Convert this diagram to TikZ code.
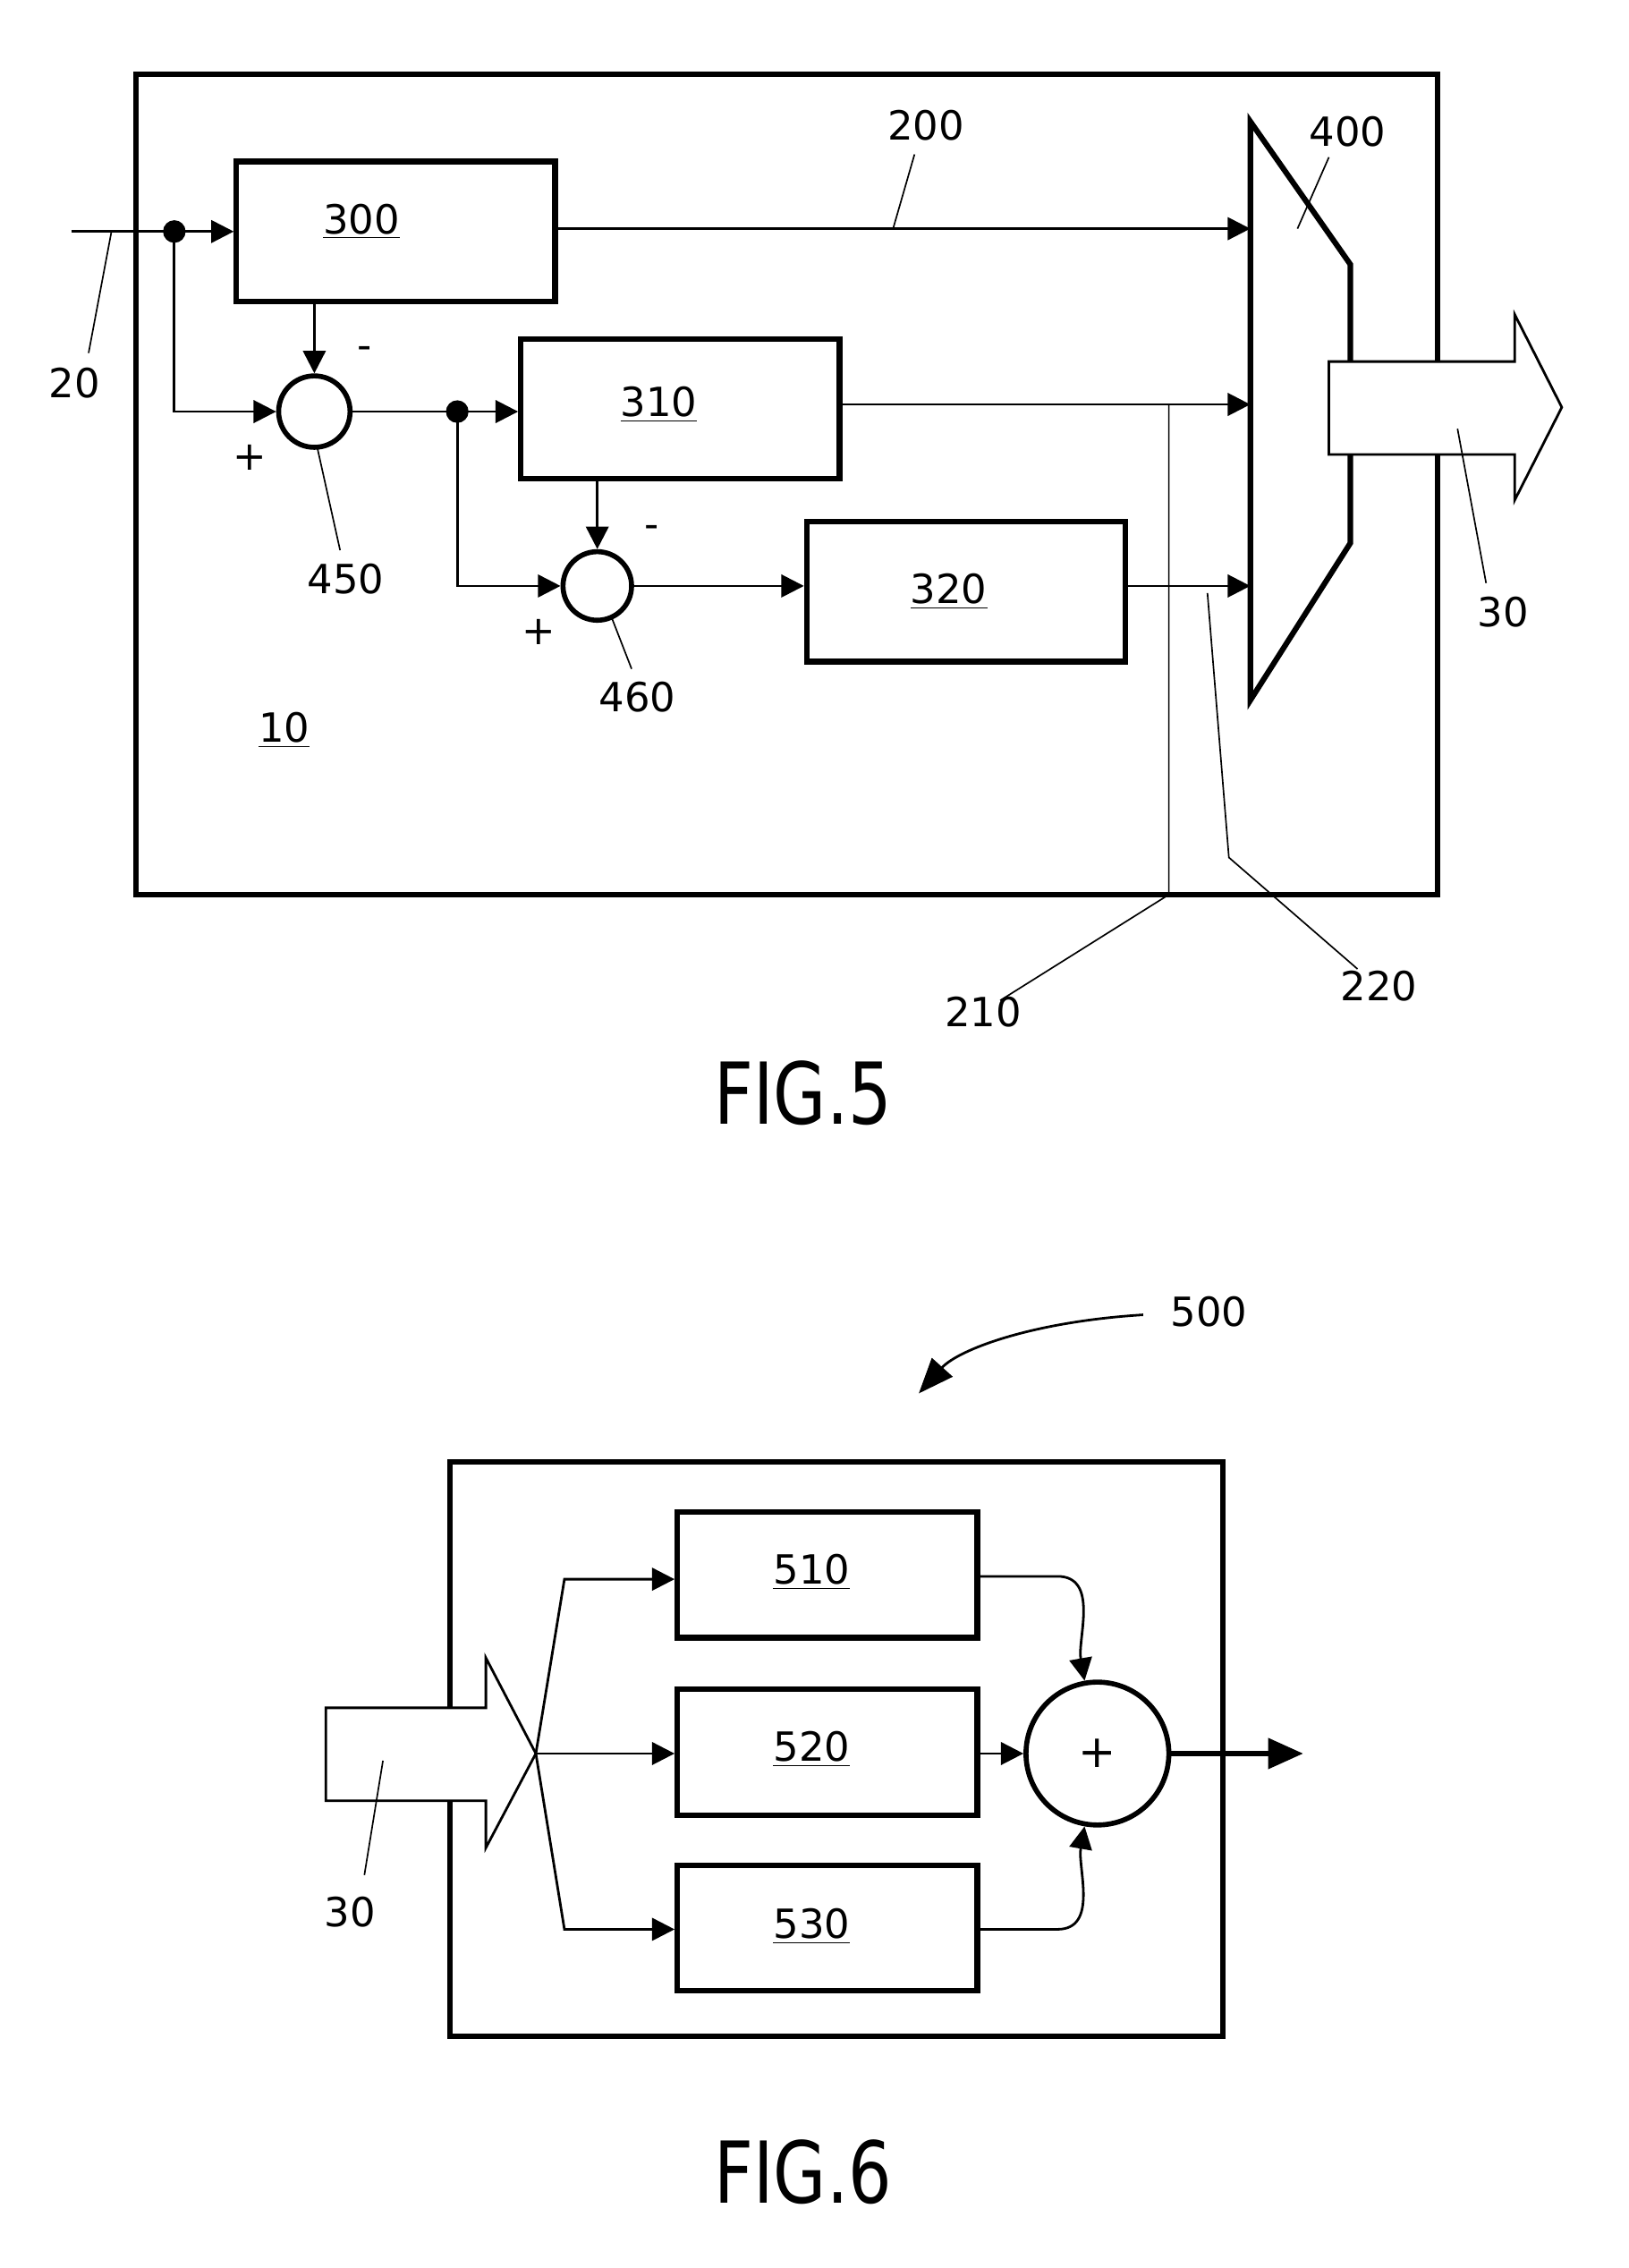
\documentclass[tikz,border=0pt]{standalone}
\usepackage{fontspec}
\setmainfont{DejaVu Sans}
\usetikzlibrary{arrows.meta,positioning}
\tikzset{
    blk/.style={draw, line width=2.2pt, minimum width=4.46cm, minimum height=1.96cm, inner sep=0pt},
    sumc/.style={draw, circle, line width=2pt, inner sep=0pt},
    lab/.style={font=\fontsize{16}{18}\selectfont, inner sep=1pt},
    sig/.style={line width=1pt, -{Triangle[length=9pt,width=9pt]}},
    lead/.style={line width=0.6pt},
    fig/.style={font=\fontsize{34}{38}\selectfont\addfontfeature{FakeStretch=0.8}},
}
\begin{document}
\begin{tikzpicture}[x=0.02cm, y=-0.02cm]
    \useasboundingbox (0,0) rectangle (1140,1587);

    % FIG.5 frame
    \draw[line width=2.2pt] (95,52) rectangle (1006,626);
    % Blocks
    \node[blk] (b300) at (277,162) {};
    \node[lab] at (253,155) {\underline{300}};
    \node[blk] (b310) at (476,286) {};
    \node[lab] at (461,283) {\underline{310}};
    \node[blk] (b320) at (676,414) {};
    \node[lab] at (664,414) {\underline{320}};
    % Subtractors
    \node[sumc, minimum size=1.0cm] (s450) at (220,288) {};
    \node[sumc, minimum size=0.96cm] (s460) at (418,410) {};
    % Junctions
    \coordinate (in) at (50,162);
    \fill (122,162) circle (4.5pt) coordinate (j1);
    \fill (320,288) circle (4.5pt) coordinate (j2);
    % Signal paths
    \draw[sig] (in) -- (b300.west |- in);
    \draw[sig] (j1) |- (s450.west);
    \draw[sig] (b300.south -| s450) -- (s450.north);
    \draw[sig] (s450.east) -- (j2) -- (b310.west |- j2);
    \draw[sig] (j2) |- (s460.west);
    \draw[sig] (b310.south -| s460) -- (s460.north);
    \draw[sig] (s460.east) -- (b320.west |- s460);
    \node[lab] at (255,247) {-};
    \node[lab] at (175,320) {+};
    \node[lab] at (456,372) {-};
    \node[lab] at (377,442) {+};
    % Multiplexer
    \draw[line width=2.2pt] (875,85) coordinate (m1) -- (945,185) -- (945,380) -- (875,490) -- cycle;
    \coordinate (mA) at (875,160);
    \coordinate (mB) at (875,283);
    \coordinate (mC) at (875,410);
    \draw[sig] (b300.east |- mA) -- (mA);
    \draw[sig] (b310.east |- mB) -- (mB);
    \draw[sig] (b320.east |- mC) -- (mC);
    % Output arrow 30
    \draw[line width=1pt, fill=white] (930,253) -- (1060,253) -- (1060,220) -- (1093,285) -- (1060,350) -- (1060,318) -- (930,318) -- cycle;
    % Reference labels
    \node[lab] (l200) at (648,88) {200};
    \draw[lead] (640,108) -- (625,160);
    \node[lab] (l400) at (943,92) {400};
    \draw[lead] (930,110) -- (908,160);
    \node[lab] (l20) at (52,268) {20};
    \draw[lead] (62,247) -- (78,162);
    \node[lab] (l450) at (242,405) {450};
    \draw[lead] (238,385) -- (222,313);
    \node[lab] (l460) at (446,488) {460};
    \draw[lead] (442,468) -- (428,432);
    \node[lab] (l30a) at (1052,428) {30};
    \draw[lead] (1040,408) -- (1020,300);
    \node[lab] at (199,511) {\underline{10}};
    \node[lab] (l210) at (688,708) {210};
    \draw[lead] (700,700) -- (818,626) -- (818,283);
    \node[lab] (l220) at (965,690) {220};
    \draw[lead] (950,678) -- (860,600) -- (845,415);
    \node[fig] at (562,765) {FIG.5};

    % FIG.6
    \node[lab] (l500) at (846,918) {500};
    \draw[line width=1pt, -{Triangle[length=14pt,width=11pt]}] (800,920) .. controls (720,925) and (670,945) .. (643,975);
    \draw[line width=2.2pt] (315,1023) rectangle (856,1425);
    \node[blk, minimum width=4.2cm, minimum height=1.76cm] (b510) at (579,1102) {};
    \node[lab] at (568,1100) {\underline{510}};
    \node[blk, minimum width=4.2cm, minimum height=1.76cm] (b520) at (579,1226) {};
    \node[lab] at (568,1224) {\underline{520}};
    \node[blk, minimum width=4.2cm, minimum height=1.76cm] (b530) at (579,1349) {};
    \node[lab] at (568,1348) {\underline{530}};
    \node[sumc, minimum size=2.0cm] (s500) at (768,1227) {};
    \node[lab, font=\fontsize{18}{20}\selectfont] at (s500) {+};
    % Input arrow 30
    \draw[line width=1pt, fill=white] (228,1195) -- (340,1195) -- (340,1160) -- (375,1227) coordinate (tip) -- (340,1293) -- (340,1260) -- (228,1260) -- cycle;
    \node[lab] (l30b) at (245,1338) {30};
    \draw[lead] (255,1312) -- (268,1232);
    % Branches
    \draw[sig] (tip) -- (395,1105) -- (b510.west |- 0,1105);
    \draw[sig] (tip) -- (b520.west |- tip);
    \draw[sig] (tip) -- (395,1350) -- (b530.west |- 0,1350);
    \draw[sig] (b510.east |- 0,1103) -- (740,1103) to[out=0,in=100] (s500.100);
    \draw[sig] (b530.east |- 0,1350) -- (740,1350) to[out=0,in=-100] (s500.-100);
    \draw[sig] (b520.east |- s500) -- (s500.west);
    \draw[line width=2pt, -{Triangle[length=14pt,width=12pt]}] (s500.east) -- (912,1227) coordinate (out);
    \node[fig] at (562,1520) {FIG.6};
\end{tikzpicture}
\end{document}
